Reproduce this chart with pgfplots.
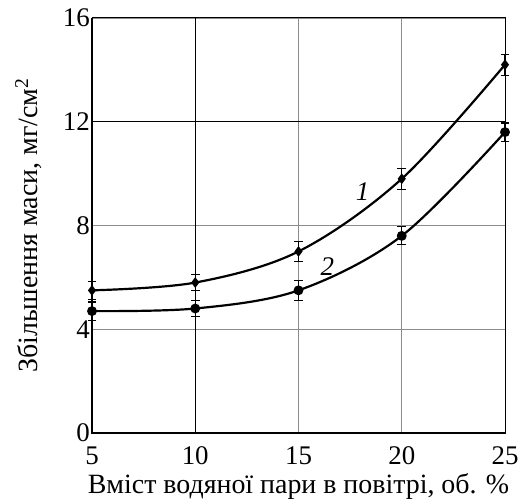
\documentclass[border=0pt]{standalone}
\usepackage{fontspec}
\setmainfont{Liberation Serif}
\usepackage{pgfplots}
\pgfplotsset{compat=1.18}
\begin{document}
\begin{tikzpicture}
\begin{axis}[
    scale only axis,
    width=413bp, height=415bp,
    xmin=5, xmax=25, ymin=0, ymax=16,
    xtick={5,15,20,25},
    ytick={0,4,8,16},
    extra x ticks={10},
    extra y ticks={12},
    extra tick style={grid style={black, line width=0.9pt}},
    grid=major,
    grid style={gray!90, line width=0.9pt},
    major tick length=0pt,
    axis line style={line width=1pt},
    /pgf/number format/assume math mode=true,
    tick label style={font=\fontsize{27}{30}\selectfont},
    yticklabel style={inner sep=2bp},
    xticklabel style={anchor=base, yshift=-31bp},
    label style={font=\fontsize{28}{31}\selectfont},
    xlabel={Вміст водяної пари в повітрі, об. \%},
    ylabel={Збільшення маси, мг/см\textsuperscript{2}},
    xlabel style={at={(axis description cs:0.5,-0.1446)}, anchor=base},
    ylabel style={at={(axis description cs:-0.133,0.5)}, anchor=base},
    clip=false,
]

% крива 1
\addplot[black, line width=2.2pt, smooth, tension=0.55,
    mark=diamond*, mark size=3.6pt,
    error bars/.cd, y dir=both, y explicit,
    error bar style={line width=1.1pt},
    error mark options={rotate=90, mark size=4.5pt, line width=1.1pt}]
    table[x=x, y=y, y error=e] {
x  y     e
5  5.5   0.35
10 5.8   0.3
15 7.0   0.4
20 9.8   0.4
25 14.2  0.4
};

% крива 2
\addplot[black, line width=2.2pt, smooth, tension=0.55,
    mark=*, mark size=3.8pt,
    error bars/.cd, y dir=both, y explicit,
    error bar style={line width=1.1pt},
    error mark options={rotate=90, mark size=4.5pt, line width=1.1pt}]
    table[x=x, y=y, y error=e] {
x  y     e
5  4.7   0.35
10 4.8   0.3
15 5.5   0.38
20 7.6   0.35
25 11.6  0.35
};

\draw[line width=2.6pt] (rel axis cs:0,1) -- (rel axis cs:0,0) -- (rel axis cs:1,0);
\node[font=\fontsize{27}{30}\selectfont\itshape] at (axis cs:18.1,9.3) {1};
\node[font=\fontsize{27}{30}\selectfont\itshape] at (axis cs:16.4,6.4) {2};
\end{axis}
\pgfresetboundingbox
\path[use as bounding box] ([xshift=-92bp,yshift=-67bp]current axis.south west)
    rectangle ([xshift=14bp,yshift=18bp]current axis.north east);
\end{tikzpicture}
\end{document}
